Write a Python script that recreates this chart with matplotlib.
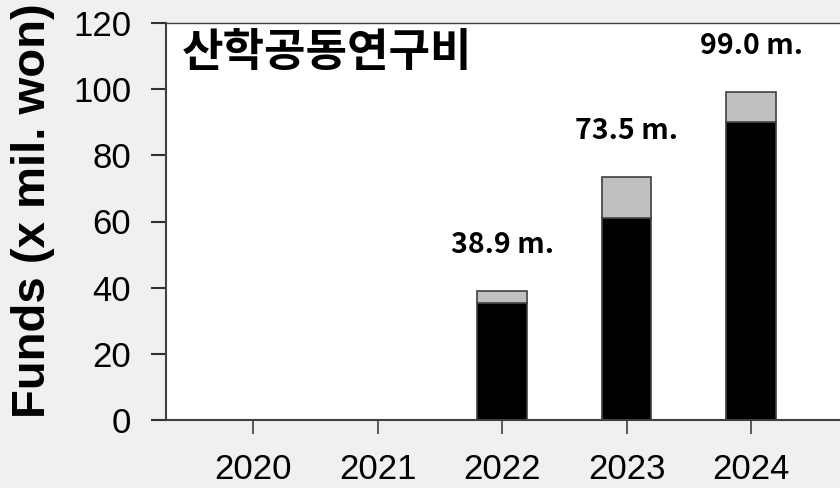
import matplotlib
matplotlib.use("Agg")
import matplotlib.pyplot as plt
import numpy as np

years = ["2020", "2021", "2022", "2023", "2024"]
base_vals = [0, 0, 35.4, 61.0, 90.0]
extra_vals = [0, 0, 3.5, 12.5, 9.0]
total_labels = ["", "", "38.9 m.", "73.5 m.", "99.0 m."]
yticks = [0, 20, 40, 60, 80, 100, 120]
title = "산학공동연구비"
ylabel = "Funds (x mil. won)"

W, H = 840, 488
fig = plt.figure(figsize=(W / 100, H / 100), dpi=100, facecolor="#f0f0f0")
ax = fig.add_axes([166 / W, 68 / H, 684 / W, 397 / H], facecolor="white")

x = np.arange(len(years))
totals = [b + e for b, e in zip(base_vals, extra_vals)]
for i in range(len(years)):
    if totals[i] <= 0:
        continue
    ax.bar(x[i], base_vals[i], width=0.4, color="black", edgecolor="#404040", linewidth=1.2, zorder=2)
    ax.bar(x[i], extra_vals[i], bottom=base_vals[i], width=0.4, color="#c0c0c0",
           edgecolor="#404040", linewidth=1.2, zorder=2)
    ax.text(x[i], totals[i] + 14, total_labels[i], ha="center", va="center",
            fontsize=20.5, fontweight="bold", family=["Noto Sans CJK KR", "DejaVu Sans"])

ax.set_xlim(-0.699, 4.795)
ax.set_ylim(0, 120)
ax.set_xticks(x)
ax.set_xticklabels(years, family="Liberation Sans", fontsize=25)
ax.set_yticks(yticks)
ax.set_yticklabels([str(v) for v in yticks], family="Liberation Sans", fontsize=25)
ax.tick_params(axis="y", direction="out", length=11, width=1.5, color="#303030", pad=14)
ax.tick_params(axis="x", direction="out", length=10, width=1.2, color="#404040", pad=14)

for s in ["left", "bottom"]:
    ax.spines[s].set_color("#404040")
    ax.spines[s].set_linewidth(1.5)
ax.spines["top"].set_color("#404040")
ax.spines["top"].set_linewidth(1.0)
ax.spines["right"].set_visible(False)

fig.text(182 / W, 1 - 53 / H, title, ha="left", va="center", fontsize=32.5,
         fontweight="bold", family=["Noto Sans CJK KR", "DejaVu Sans"])
fig.text(33 / W, 1 - 211 / H, ylabel, ha="center", va="center", rotation=90,
         fontsize=34, fontweight="bold", family="Liberation Sans")

fig.savefig("out.png", dpi=100, facecolor=fig.get_facecolor())
